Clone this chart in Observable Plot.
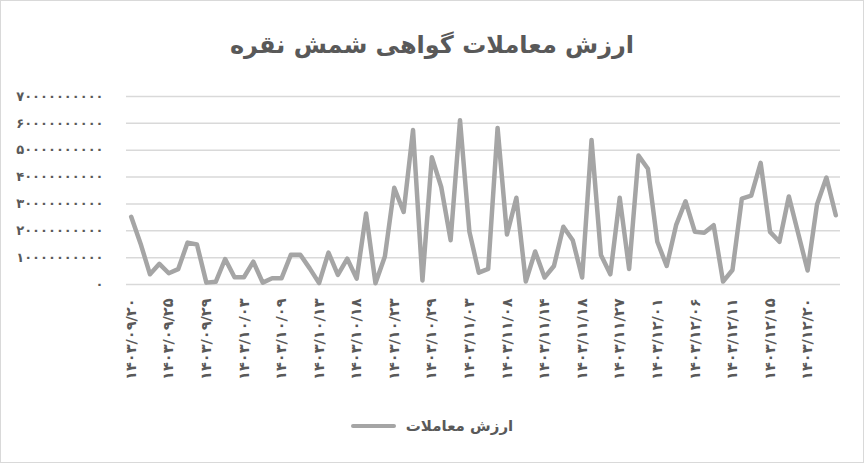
<!DOCTYPE html>
<html lang="fa">
<head>
<meta charset="utf-8">
<script src="https://cdn.jsdelivr.net/npm/d3@7"></script>
<script src="https://cdn.jsdelivr.net/npm/@observablehq/plot@0.6"></script>
<style>
  html, body { margin: 0; padding: 0; background: #fff; }
  #chart { position: relative; width: 864px; height: 463px; box-sizing: border-box; border: 1px solid #d9d9d9; background: #fff; overflow: hidden; font-family: "DejaVu Sans", sans-serif; }
  #title { position: absolute; top: 0; left: 0; width: 100%; text-align: center; line-height: 88px; font-size: 24px; font-weight: bold; color: #595959; direction: rtl; }
  #plot { position: absolute; top: 74px; left: 0; }
  #legend { position: absolute; top: 399px; left: 0; width: 100%; height: 52px; display: flex; align-items: center; justify-content: center; gap: 10px; direction: ltr; }
  #legend .swatch { width: 45px; height: 4px; background: #A5A5A5; border-radius: 2px; }
  #legend .label { font-size: 15px; font-weight: bold; color: #595959; direction: rtl; }
</style>
</head>
<body>
<div id="chart">
  <div id="title">ارزش معاملات گواهی شمش نقره</div>
  <div id="plot"></div>
  <div id="legend"><span class="swatch"></span><span class="label">ارزش معاملات</span></div>
</div>
<script>
// Series values (ارزش معاملات), one per trading day
const values = [
  2.52e10, 1.52e10, 0.38e10, 0.77e10, 0.42e10, 0.57e10, 1.56e10, 1.49e10, 0.07e10, 0.10e10,
  0.95e10, 0.27e10, 0.27e10, 0.85e10, 0.07e10, 0.23e10, 0.23e10, 1.11e10, 1.11e10, 0.60e10,
  0.05e10, 1.19e10, 0.36e10, 0.96e10, 0.22e10, 2.64e10, 0.05e10, 1.04e10, 3.60e10, 2.70e10,
  5.75e10, 0.15e10, 4.74e10, 3.63e10, 1.65e10, 6.12e10, 1.96e10, 0.44e10, 0.58e10, 5.83e10,
  1.86e10, 3.23e10, 0.11e10, 1.23e10, 0.26e10, 0.69e10, 2.15e10, 1.65e10, 0.26e10, 5.38e10,
  1.10e10, 0.38e10, 3.23e10, 0.58e10, 4.80e10, 4.31e10, 1.59e10, 0.69e10, 2.21e10, 3.10e10,
  1.96e10, 1.93e10, 2.21e10, 0.11e10, 0.54e10, 3.20e10, 3.31e10, 4.53e10, 1.96e10, 1.59e10,
  3.28e10, 1.90e10, 0.52e10, 2.98e10, 3.98e10, 2.58e10
];
// Date tick labels shown every 4th day
const dateLabels = [
  "۱۴۰۳/۰۹/۲۰", "۱۴۰۳/۰۹/۲۵", "۱۴۰۳/۰۹/۲۹", "۱۴۰۳/۱۰/۰۳", "۱۴۰۳/۱۰/۰۹",
  "۱۴۰۳/۱۰/۱۳", "۱۴۰۳/۱۰/۱۸", "۱۴۰۳/۱۰/۲۳", "۱۴۰۳/۱۰/۲۹", "۱۴۰۳/۱۱/۰۳",
  "۱۴۰۳/۱۱/۰۸", "۱۴۰۳/۱۱/۱۴", "۱۴۰۳/۱۱/۱۸", "۱۴۰۳/۱۱/۲۷", "۱۴۰۳/۱۲/۰۱",
  "۱۴۰۳/۱۲/۰۶", "۱۴۰۳/۱۲/۱۱", "۱۴۰۳/۱۲/۱۵", "۱۴۰۳/۱۲/۲۰"
];
const labelStep = 4;
const yTicks = [0, 1e10, 2e10, 3e10, 4e10, 5e10, 6e10, 7e10];

const faDigits = "۰۱۲۳۴۵۶۷۸۹";
const fa = s => String(s).replace(/\d/g, d => faDigits[+d]);

const n = values.length;
const tickIdx = dateLabels.map((_, k) => k * labelStep);

const chart = Plot.plot({
  width: 862,
  height: 325,
  marginLeft: 125,
  marginRight: 23,
  marginTop: 21,
  marginBottom: 116,
  style: { fontFamily: "DejaVu Sans, sans-serif", fontSize: "13px", fontWeight: "bold", color: "#595959", background: "transparent" },
  x: { type: "linear", domain: [-0.5, n - 0.5], axis: null },
  y: { domain: [0, 7e10], axis: null },
  marks: [
    Plot.gridY(yTicks, { stroke: "#D9D9D9", strokeOpacity: 1, strokeWidth: 1.5 }),
    Plot.axisY(yTicks, { tickSize: 0, tickPadding: 23, tickFormat: d => fa(d.toFixed(0)), fill: "#595959" }),
    Plot.axisX(tickIdx, { tickSize: 0, tickPadding: 14, tickRotate: -90, fontSize: 14.5, tickFormat: i => dateLabels[i / labelStep], fill: "#595959" }),
    Plot.lineY(values, { x: (d, i) => i, y: d => d, stroke: "#A5A5A5", strokeWidth: 4.5, strokeLinejoin: "round", strokeLinecap: "round" })
  ]
});
document.getElementById("plot").appendChild(chart);
</script>
</body>
</html>
